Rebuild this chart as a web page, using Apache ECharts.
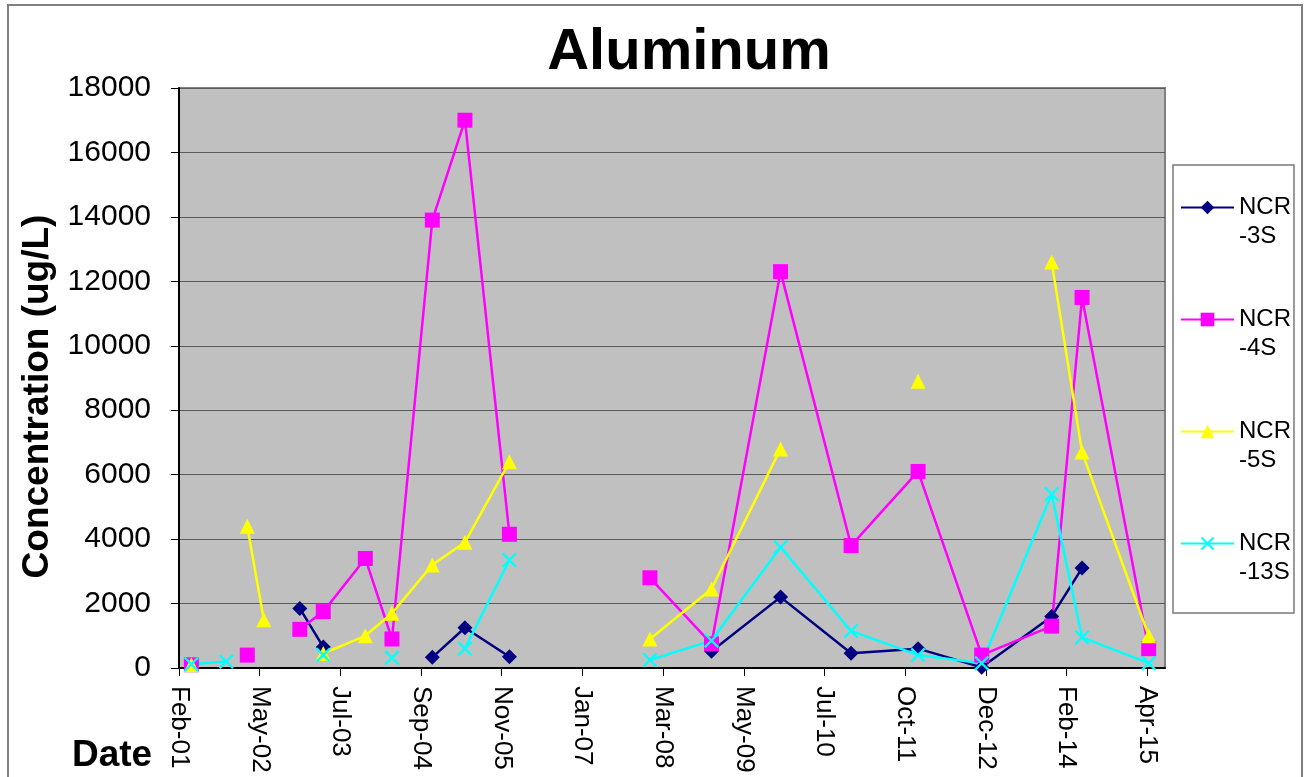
<!DOCTYPE html>
<html>
<head>
<meta charset="utf-8">
<title>Aluminum</title>
<script src="https://cdn.jsdelivr.net/npm/echarts@6/dist/echarts.min.js"></script>
<style>
  html, body { margin: 0; padding: 0; background: #fff; }
  #chart { width: 1307px; height: 777px; }
</style>
</head>
<body>
<div id="chart"></div>
<script>
// sampling dates shared by all wells, null = no result on that date
const sampleDates = ['2001-05-02', '2001-11-04', '2002-02-24', '2002-05-23', '2002-12-01',
  '2003-04-05', '2003-11-15', '2004-04-05', '2004-11-06', '2005-04-29', '2005-12-22',
  '2007-01-15', '2008-01-10', '2008-12-03', '2009-12-06', '2010-12-17', '2011-12-09',
  '2012-11-12', '2013-11-20', '2014-05-01', '2015-04-21'];
const ncr3S  = [null, null, null, null, 1850, 650, null, null, 330, 1250, 350, null, null, 520, 2200, 460, 600, 20, 1600, 3100, null];
const ncr4S  = [100, null, 400, null, 1200, 1750, 3400, 900, 13900, 17000, 4150, null, 2800, 750, 12300, 3800, 6100, 400, 1300, 11500, 600];
const ncr5S  = [100, null, 4400, 1500, null, 450, 1000, 1700, 3200, 3900, 6400, null, 900, 2450, 6800, null, 8900, null, 12600, 6700, 1000];
const ncr13S = [120, 200, null, null, null, 400, null, 320, null, 600, 3350, null, 250, 850, 3750, 1150, 400, 150, 5400, 950, 150];
const monthNames = ['Jan', 'Feb', 'Mar', 'Apr', 'May', 'Jun', 'Jul', 'Aug', 'Sep', 'Oct', 'Nov', 'Dec'];

// date axis: days counted from the axis start, one label every 430 days (like excel's major unit)
const axisStart = Date.UTC(2001, 1, 25);
const DAY = 86400000;
const STEP = 430;
const FONT = "'Liberation Sans', Arial, sans-serif";

function toDays(s) {
  const p = s.split('-').map(Number);
  return (Date.UTC(p[0], p[1] - 1, p[2]) - axisStart) / DAY;
}
function points(vals) {
  return sampleDates.map((d, i) => [toDays(d), vals[i] == null ? '-' : vals[i]]);
}
function dateLabel(v) {
  if (v % STEP !== 0) return '';
  const d = new Date(axisStart + v * DAY);
  return monthNames[d.getUTCMonth()] + '-' + String(d.getUTCFullYear()).slice(2);
}

const xMark = 'path://M0,1.5L1.5,0L7,5.5L12.5,0L14,1.5L8.5,7L14,12.5L12.5,14L7,8.5L1.5,14L0,12.5L5.5,7Z';

function lineSeries(name, vals, color, symbol, size) {
  return {
    name: name,
    type: 'line',
    data: points(vals),
    symbol: symbol,
    symbolSize: size,
    showAllSymbol: true,
    connectNulls: false,
    color: color,
    lineStyle: { color: color, width: 2.5 },
    itemStyle: { color: color },
    emphasis: { disabled: true }
  };
}

let myChart = echarts.init(document.getElementById('chart'));
myChart.setOption({
  animation: false,
  backgroundColor: '#fff',
  textStyle: { fontFamily: FONT },
  title: {
    text: 'Aluminum',
    left: 684,
    textAlign: 'center',
    top: 19,
    textStyle: { fontSize: 58, fontWeight: 'bold', color: '#000', fontFamily: FONT }
  },
  grid: {
    left: 179, top: 88, width: 986, height: 580,
    show: true,
    backgroundColor: '#C0C0C0',
    borderColor: '#808080',
    borderWidth: 2,
    outerBoundsMode: 'none'
  },
  legend: {
    orient: 'vertical',
    left: 1175,
    top: 159,
    padding: 5,
    itemWidth: 53,
    itemHeight: 17,
    itemGap: 25,
    // blank first line so that "NCR" sits level with the icon, like excel's wrapped entry
    formatter: n => ' \n' + n.replace('-', '\n-'),
    textStyle: { fontSize: 24, lineHeight: 29, color: '#000', fontFamily: FONT }
  },
  xAxis: {
    type: 'value',
    min: 0,
    max: 5255,
    interval: STEP,
    axisLine: { show: true, lineStyle: { color: '#000', width: 2 } },
    axisTick: { show: true, length: 8, lineStyle: { color: '#000' } },
    axisLabel: {
      rotate: -90, fontSize: 26, color: '#000', margin: 18,
      showMaxLabel: false, formatter: dateLabel, fontFamily: FONT
    },
    splitLine: { show: false }
  },
  yAxis: {
    type: 'value',
    min: 0,
    max: 18000,
    interval: 2000,
    name: 'Concentration (ug/L)',
    nameLocation: 'middle',
    nameRotate: 90,
    nameGap: 110,
    nameTextStyle: { fontSize: 37, fontWeight: 'bold', color: '#000', fontFamily: FONT, padding: [0, 37, 0, 0] },
    axisLine: { show: true, lineStyle: { color: '#000', width: 2 } },
    axisTick: { show: true, length: 8, lineStyle: { color: '#000' } },
    axisLabel: { fontSize: 30, color: '#000', margin: 28, fontFamily: FONT, formatter: v => String(v) },
    splitLine: { show: true, lineStyle: { color: '#5a5a5a', width: 1 } }
  },
  graphic: [
    {
      type: 'rect', silent: true, z: -1,
      shape: { x: 8, y: 5, width: 1294, height: 800 },
      style: { fill: 'none', stroke: '#808080', lineWidth: 2 }
    },
    {
      type: 'rect', silent: true,
      shape: { x: 1173, y: 165, width: 121, height: 448 },
      style: { fill: 'none', stroke: '#7a7a7a', lineWidth: 1.5 }
    },
    {
      type: 'text', silent: true,
      style: { text: 'Date', x: 72, y: 756, verticalAlign: 'middle', font: 'bold 37px ' + FONT, fill: '#000' }
    }
  ],
  series: [
    lineSeries('NCR-3S', ncr3S, '#000080', 'diamond', 15),
    lineSeries('NCR-4S', ncr4S, '#FF00FF', 'rect', 15),
    lineSeries('NCR-5S', ncr5S, '#FFFF00', 'triangle', 15),
    lineSeries('NCR-13S', ncr13S, '#00FFFF', xMark, 15)
  ]
});
</script>
</body>
</html>
